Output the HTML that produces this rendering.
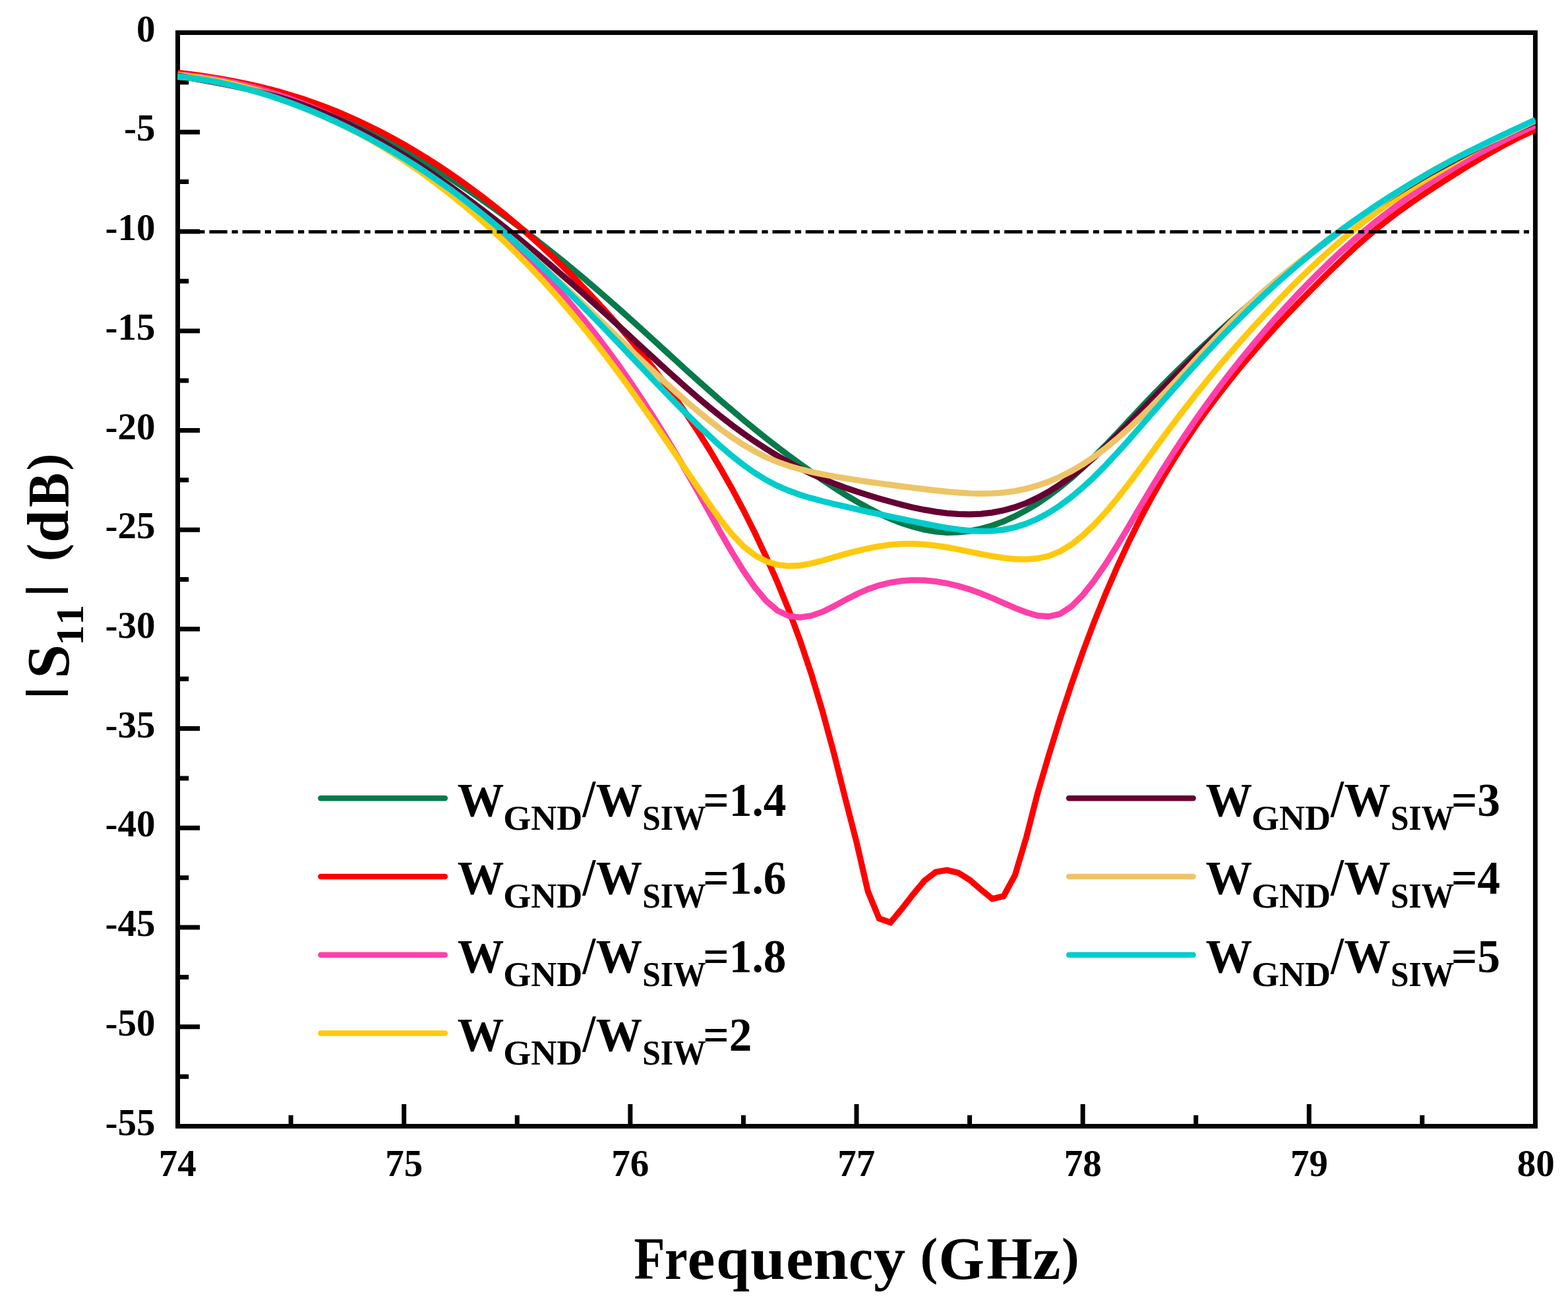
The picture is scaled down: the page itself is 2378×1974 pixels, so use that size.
<!DOCTYPE html>
<html lang="en"><head><meta charset="utf-8"><title>|S11| (dB) versus Frequency (GHz)</title>
<style>html,body{margin:0;padding:0;background:#fff}body{width:2378px;height:1974px;overflow:hidden}svg{display:block}text{font-family:'Liberation Serif', 'DejaVu Serif', serif;font-weight:bold;font-kerning:none;fill:#000;}</style></head><body>
<svg xmlns="http://www.w3.org/2000/svg" width="2378" height="1974" viewBox="0 0 2378 1974">
<rect width="2378" height="1974" fill="#fff"/>
<g fill="none" stroke="#000" stroke-width="7.00" stroke-linecap="butt">
<rect x="269.55" y="49.50" width="2058.90" height="1658.00"/>
<path d="M269.55,124.86 h16.70 M269.55,200.23 h33.60 M269.55,275.59 h16.70 M269.55,350.95 h33.60 M269.55,426.32 h16.70 M269.55,501.68 h33.60 M269.55,577.05 h16.70 M269.55,652.41 h33.60 M269.55,727.77 h16.70 M269.55,803.14 h33.60 M269.55,878.50 h16.70 M269.55,953.86 h33.60 M269.55,1029.23 h16.70 M269.55,1104.59 h33.60 M269.55,1179.95 h16.70 M269.55,1255.32 h33.60 M269.55,1330.68 h16.70 M269.55,1406.05 h33.60 M269.55,1481.41 h16.70 M269.55,1556.77 h33.60 M269.55,1632.14 h16.70 M441.12,1707.50 v-16.70 M612.70,1707.50 v-33.60 M784.27,1707.50 v-16.70 M955.85,1707.50 v-33.60 M1127.42,1707.50 v-16.70 M1299.00,1707.50 v-33.60 M1470.57,1707.50 v-16.70 M1642.15,1707.50 v-33.60 M1813.72,1707.50 v-16.70 M1985.30,1707.50 v-33.60 M2156.87,1707.50 v-16.70" stroke-width="7.00"/>
</g>
<defs><clipPath id="plot"><rect x="269.05" y="49.50" width="2059.90" height="1658.00"/></clipPath></defs>
<g fill="none" stroke-width="9.20" stroke-linejoin="miter" stroke-linecap="butt" clip-path="url(#plot)">
<path stroke="#077A4B" d="M269.6,112.5 L286.7,114.5 L303.9,116.7 L321.0,119.4 L338.2,122.4 L355.3,125.7 L372.5,129.5 L389.7,133.6 L406.8,138.2 L424.0,143.1 L441.1,148.6 L458.3,154.4 L475.4,160.7 L492.6,167.5 L509.8,174.8 L526.9,182.5 L544.1,190.6 L561.2,199.1 L578.4,208.1 L595.5,217.4 L612.7,227.1 L629.9,237.2 L647.0,247.6 L664.2,258.3 L681.3,269.3 L698.5,280.7 L715.6,292.3 L732.8,304.2 L750.0,316.4 L767.1,328.8 L784.3,341.5 L801.4,354.5 L818.6,367.8 L835.7,381.3 L852.9,395.1 L870.1,409.2 L887.2,423.5 L904.4,438.2 L921.5,453.1 L938.7,468.2 L955.8,483.6 L973.0,499.2 L990.2,514.8 L1007.3,530.5 L1024.5,546.2 L1041.6,561.8 L1058.8,577.2 L1076.0,592.5 L1093.1,607.5 L1110.3,622.1 L1127.4,636.5 L1144.6,650.6 L1161.7,664.3 L1178.9,677.6 L1196.1,690.6 L1213.2,703.3 L1230.4,715.6 L1247.5,727.6 L1264.7,739.1 L1281.8,750.0 L1299.0,760.3 L1316.2,769.8 L1333.3,778.6 L1350.5,786.4 L1367.6,793.1 L1384.8,798.7 L1401.9,803.0 L1419.1,805.9 L1436.3,807.3 L1453.4,807.0 L1470.6,805.1 L1487.7,801.7 L1504.9,796.8 L1522.0,790.5 L1539.2,782.7 L1556.4,773.6 L1573.5,763.3 L1590.7,751.6 L1607.8,738.7 L1625.0,724.5 L1642.1,709.1 L1659.3,692.6 L1676.5,675.3 L1693.6,657.3 L1710.8,639.0 L1727.9,620.6 L1745.1,602.5 L1762.3,584.9 L1779.4,567.7 L1796.6,551.0 L1813.7,534.7 L1830.9,518.8 L1848.0,503.1 L1865.2,487.7 L1882.4,472.5 L1899.5,457.5 L1916.7,442.7 L1933.8,428.2 L1951.0,413.8 L1968.1,399.8 L1985.3,386.1 L2002.5,372.7 L2019.6,359.7 L2036.8,347.0 L2053.9,334.8 L2071.1,323.1 L2088.2,311.7 L2105.4,300.8 L2122.6,290.2 L2139.7,279.9 L2156.9,269.9 L2174.0,260.2 L2191.2,250.7 L2208.3,241.4 L2225.5,232.3 L2242.7,223.5 L2259.8,214.9 L2277.0,206.7 L2294.1,198.7 L2311.3,191.2 L2328.4,184.0"/>
<path stroke="#FF0000" d="M269.6,110.2 L286.7,112.3 L303.9,114.6 L321.0,117.2 L338.2,120.0 L355.3,123.2 L372.5,126.7 L389.7,130.5 L406.8,134.7 L424.0,139.3 L441.1,144.3 L458.3,149.7 L475.4,155.5 L492.6,161.9 L509.8,168.6 L526.9,175.9 L544.1,183.6 L561.2,191.8 L578.4,200.4 L595.5,209.5 L612.7,219.1 L629.9,229.2 L647.0,239.7 L664.2,250.7 L681.3,262.1 L698.5,274.0 L715.6,286.4 L732.8,299.3 L750.0,312.6 L767.1,326.4 L784.3,340.8 L801.4,355.6 L818.6,371.0 L835.7,386.9 L852.9,403.4 L870.1,420.4 L887.2,438.1 L904.4,456.3 L921.5,475.1 L938.7,494.5 L955.8,514.7 L973.0,535.6 L990.2,557.4 L1007.3,580.1 L1024.5,603.8 L1041.6,628.7 L1058.8,654.7 L1076.0,682.0 L1093.1,710.8 L1110.3,741.2 L1127.4,773.3 L1144.6,807.5 L1161.7,843.8 L1178.9,882.5 L1196.1,924.5 L1213.2,970.6 L1230.4,1021.7 L1247.5,1078.8 L1264.7,1142.1 L1281.8,1210.0 L1299.0,1276.7 L1316.2,1351.3 L1333.3,1392.7 L1350.5,1398.7 L1367.6,1378.0 L1384.8,1356.0 L1401.9,1335.3 L1419.1,1322.0 L1436.3,1319.3 L1453.4,1323.3 L1470.6,1334.0 L1487.7,1348.7 L1504.9,1362.7 L1522.0,1358.7 L1539.2,1327.3 L1556.4,1270.0 L1573.5,1203.0 L1590.7,1144.6 L1607.8,1089.4 L1625.0,1037.4 L1642.1,988.7 L1659.3,943.1 L1676.5,900.7 L1693.6,861.1 L1710.8,824.0 L1727.9,789.4 L1745.1,756.9 L1762.3,726.4 L1779.4,697.8 L1796.6,670.8 L1813.7,645.4 L1830.9,621.2 L1848.0,598.3 L1865.2,576.3 L1882.4,555.2 L1899.5,535.0 L1916.7,515.5 L1933.8,496.6 L1951.0,478.2 L1968.1,460.3 L1985.3,442.8 L2002.5,425.5 L2019.6,408.5 L2036.8,392.1 L2053.9,376.2 L2071.1,360.9 L2088.2,346.4 L2105.4,332.8 L2122.6,319.9 L2139.7,307.7 L2156.9,296.0 L2174.0,284.7 L2191.2,273.6 L2208.3,262.8 L2225.5,252.1 L2242.7,241.8 L2259.8,231.8 L2277.0,222.2 L2294.1,213.2 L2311.3,204.7 L2328.4,196.8"/>
<path stroke="#FF40A8" d="M269.6,112.6 L286.7,114.2 L303.9,116.3 L321.0,118.8 L338.2,121.8 L355.3,125.3 L372.5,129.3 L389.7,133.7 L406.8,138.7 L424.0,144.1 L441.1,150.1 L458.3,156.5 L475.4,163.5 L492.6,170.9 L509.8,178.9 L526.9,187.4 L544.1,196.4 L561.2,205.9 L578.4,215.9 L595.5,226.4 L612.7,237.4 L629.9,248.8 L647.0,260.8 L664.2,273.3 L681.3,286.2 L698.5,299.7 L715.6,313.6 L732.8,328.0 L750.0,343.0 L767.1,358.5 L784.3,374.6 L801.4,391.4 L818.6,408.8 L835.7,427.1 L852.9,446.1 L870.1,465.9 L887.2,486.6 L904.4,508.3 L921.5,530.9 L938.7,554.4 L955.8,579.0 L973.0,604.6 L990.2,631.1 L1007.3,658.5 L1024.5,686.9 L1041.6,716.1 L1058.8,746.3 L1076.0,777.1 L1093.1,807.9 L1110.3,837.6 L1127.4,865.4 L1144.6,890.2 L1161.7,910.7 L1178.9,925.6 L1196.1,933.8 L1213.2,936.1 L1230.4,933.6 L1247.5,927.6 L1264.7,919.1 L1281.8,909.8 L1299.0,900.8 L1316.2,893.3 L1333.3,887.5 L1350.5,883.3 L1367.6,880.7 L1384.8,879.5 L1401.9,879.8 L1419.1,881.5 L1436.3,884.4 L1453.4,888.5 L1470.6,893.7 L1487.7,899.7 L1504.9,906.7 L1522.0,914.2 L1539.2,921.7 L1556.4,928.4 L1573.5,933.4 L1590.7,934.7 L1607.8,930.6 L1625.0,919.4 L1642.1,902.2 L1659.3,880.4 L1676.5,855.4 L1693.6,828.2 L1710.8,799.6 L1727.9,770.4 L1745.1,741.5 L1762.3,713.5 L1779.4,686.6 L1796.6,660.6 L1813.7,635.6 L1830.9,611.5 L1848.0,588.3 L1865.2,565.9 L1882.4,544.2 L1899.5,523.3 L1916.7,503.0 L1933.8,483.3 L1951.0,464.3 L1968.1,445.9 L1985.3,428.1 L2002.5,410.9 L2019.6,394.4 L2036.8,378.5 L2053.9,363.2 L2071.1,348.6 L2088.2,334.6 L2105.4,321.3 L2122.6,308.5 L2139.7,296.3 L2156.9,284.6 L2174.0,273.5 L2191.2,262.7 L2208.3,252.4 L2225.5,242.4 L2242.7,232.8 L2259.8,223.6 L2277.0,214.8 L2294.1,206.2 L2311.3,198.0 L2328.4,190.1"/>
<path stroke="#FFC90E" d="M269.6,113.9 L286.7,115.6 L303.9,117.9 L321.0,120.7 L338.2,124.0 L355.3,127.8 L372.5,132.2 L389.7,137.0 L406.8,142.3 L424.0,148.1 L441.1,154.4 L458.3,161.1 L475.4,168.3 L492.6,176.0 L509.8,184.2 L526.9,192.8 L544.1,201.9 L561.2,211.5 L578.4,221.6 L595.5,232.3 L612.7,243.4 L629.9,255.1 L647.0,267.3 L664.2,280.0 L681.3,293.3 L698.5,307.1 L715.6,321.5 L732.8,336.5 L750.0,352.1 L767.1,368.2 L784.3,385.0 L801.4,402.4 L818.6,420.5 L835.7,439.2 L852.9,458.6 L870.1,478.7 L887.2,499.4 L904.4,521.0 L921.5,543.2 L938.7,566.2 L955.8,589.8 L973.0,614.0 L990.2,638.6 L1007.3,663.6 L1024.5,688.8 L1041.6,714.2 L1058.8,739.6 L1076.0,764.8 L1093.1,788.7 L1110.3,810.3 L1127.4,828.2 L1144.6,841.7 L1161.7,850.9 L1178.9,856.2 L1196.1,858.2 L1213.2,857.3 L1230.4,854.3 L1247.5,849.9 L1264.7,844.9 L1281.8,840.0 L1299.0,835.4 L1316.2,831.4 L1333.3,828.2 L1350.5,825.8 L1367.6,824.5 L1384.8,824.4 L1401.9,825.4 L1419.1,827.3 L1436.3,829.9 L1453.4,833.0 L1470.6,836.4 L1487.7,839.9 L1504.9,843.2 L1522.0,845.9 L1539.2,847.7 L1556.4,848.1 L1573.5,846.7 L1590.7,842.9 L1607.8,835.9 L1625.0,825.5 L1642.1,811.9 L1659.3,795.6 L1676.5,777.0 L1693.6,756.6 L1710.8,734.8 L1727.9,712.0 L1745.1,688.8 L1762.3,665.3 L1779.4,642.2 L1796.6,619.7 L1813.7,597.8 L1830.9,576.6 L1848.0,555.9 L1865.2,535.9 L1882.4,516.3 L1899.5,497.2 L1916.7,478.6 L1933.8,460.5 L1951.0,442.8 L1968.1,425.5 L1985.3,408.8 L2002.5,392.7 L2019.6,377.1 L2036.8,362.2 L2053.9,347.9 L2071.1,334.2 L2088.2,321.3 L2105.4,309.1 L2122.6,297.6 L2139.7,286.5 L2156.9,275.7 L2174.0,265.2 L2191.2,254.9 L2208.3,244.5 L2225.5,234.3 L2242.7,224.4 L2259.8,214.9 L2277.0,206.1 L2294.1,197.9 L2311.3,190.6 L2328.4,184.4"/>
<path stroke="#660033" d="M269.6,114.9 L286.7,117.9 L303.9,120.9 L321.0,124.0 L338.2,127.3 L355.3,130.8 L372.5,134.5 L389.7,138.6 L406.8,143.0 L424.0,147.7 L441.1,153.0 L458.3,158.7 L475.4,165.0 L492.6,171.9 L509.8,179.4 L526.9,187.4 L544.1,196.0 L561.2,205.0 L578.4,214.6 L595.5,224.6 L612.7,235.1 L629.9,246.0 L647.0,257.3 L664.2,269.0 L681.3,281.0 L698.5,293.4 L715.6,306.1 L732.8,319.1 L750.0,332.3 L767.1,345.9 L784.3,359.7 L801.4,373.7 L818.6,388.0 L835.7,402.6 L852.9,417.4 L870.1,432.4 L887.2,447.6 L904.4,463.0 L921.5,478.6 L938.7,494.4 L955.8,510.2 L973.0,526.2 L990.2,542.0 L1007.3,557.7 L1024.5,573.2 L1041.6,588.4 L1058.8,603.2 L1076.0,617.6 L1093.1,631.4 L1110.3,644.7 L1127.4,657.2 L1144.6,669.2 L1161.7,680.4 L1178.9,691.0 L1196.1,700.8 L1213.2,710.0 L1230.4,718.4 L1247.5,726.0 L1264.7,733.0 L1281.8,739.3 L1299.0,745.2 L1316.2,750.7 L1333.3,755.8 L1350.5,760.7 L1367.6,765.3 L1384.8,769.4 L1401.9,772.9 L1419.1,775.9 L1436.3,778.1 L1453.4,779.4 L1470.6,779.8 L1487.7,779.1 L1504.9,777.1 L1522.0,773.8 L1539.2,769.0 L1556.4,762.7 L1573.5,754.8 L1590.7,745.3 L1607.8,734.4 L1625.0,722.1 L1642.1,708.4 L1659.3,693.5 L1676.5,677.4 L1693.6,660.6 L1710.8,643.1 L1727.9,625.4 L1745.1,607.6 L1762.3,590.0 L1779.4,572.6 L1796.6,555.4 L1813.7,538.5 L1830.9,521.9 L1848.0,505.5 L1865.2,489.4 L1882.4,473.7 L1899.5,458.4 L1916.7,443.3 L1933.8,428.6 L1951.0,414.3 L1968.1,400.3 L1985.3,386.7 L2002.5,373.4 L2019.6,360.5 L2036.8,348.0 L2053.9,335.8 L2071.1,323.9 L2088.2,312.4 L2105.4,301.3 L2122.6,290.5 L2139.7,280.0 L2156.9,269.9 L2174.0,260.1 L2191.2,250.6 L2208.3,241.4 L2225.5,232.5 L2242.7,223.9 L2259.8,215.6 L2277.0,207.5 L2294.1,199.7 L2311.3,192.1 L2328.4,184.8"/>
<path stroke="#EDC568" d="M269.6,116.4 L286.7,118.0 L303.9,120.1 L321.0,122.9 L338.2,126.2 L355.3,130.0 L372.5,134.3 L389.7,139.2 L406.8,144.5 L424.0,150.3 L441.1,156.5 L458.3,163.1 L475.4,170.2 L492.6,177.6 L509.8,185.5 L526.9,193.7 L544.1,202.3 L561.2,211.4 L578.4,220.9 L595.5,230.8 L612.7,241.1 L629.9,251.9 L647.0,263.1 L664.2,274.7 L681.3,286.9 L698.5,299.4 L715.6,312.5 L732.8,326.0 L750.0,340.0 L767.1,354.4 L784.3,369.1 L801.4,384.2 L818.6,399.6 L835.7,415.3 L852.9,431.2 L870.1,447.4 L887.2,463.6 L904.4,480.1 L921.5,496.6 L938.7,513.2 L955.8,529.7 L973.0,546.2 L990.2,562.4 L1007.3,578.4 L1024.5,594.0 L1041.6,609.2 L1058.8,623.7 L1076.0,637.7 L1093.1,650.9 L1110.3,663.1 L1127.4,674.3 L1144.6,684.3 L1161.7,693.0 L1178.9,700.3 L1196.1,706.3 L1213.2,711.3 L1230.4,715.5 L1247.5,719.0 L1264.7,722.2 L1281.8,725.1 L1299.0,727.8 L1316.2,730.4 L1333.3,732.8 L1350.5,735.1 L1367.6,737.4 L1384.8,739.5 L1401.9,741.6 L1419.1,743.6 L1436.3,745.4 L1453.4,746.9 L1470.6,748.0 L1487.7,748.4 L1504.9,748.0 L1522.0,746.8 L1539.2,744.5 L1556.4,741.0 L1573.5,736.2 L1590.7,730.2 L1607.8,722.9 L1625.0,714.2 L1642.1,704.0 L1659.3,692.5 L1676.5,679.7 L1693.6,665.6 L1710.8,650.5 L1727.9,634.4 L1745.1,617.5 L1762.3,599.8 L1779.4,581.7 L1796.6,563.3 L1813.7,544.7 L1830.9,526.2 L1848.0,508.0 L1865.2,490.2 L1882.4,473.2 L1899.5,456.9 L1916.7,441.4 L1933.8,426.6 L1951.0,412.5 L1968.1,398.9 L1985.3,385.7 L2002.5,373.0 L2019.6,360.6 L2036.8,348.4 L2053.9,336.3 L2071.1,324.4 L2088.2,312.6 L2105.4,301.0 L2122.6,289.7 L2139.7,278.7 L2156.9,268.2 L2174.0,258.1 L2191.2,248.6 L2208.3,239.6 L2225.5,231.1 L2242.7,223.0 L2259.8,215.1 L2277.0,207.2 L2294.1,199.3 L2311.3,191.2 L2328.4,182.8"/>
<path stroke="#00CCCC" d="M269.6,115.9 L286.7,117.7 L303.9,120.1 L321.0,122.9 L338.2,126.2 L355.3,130.1 L372.5,134.4 L389.7,139.2 L406.8,144.4 L424.0,150.1 L441.1,156.2 L458.3,162.7 L475.4,169.6 L492.6,177.0 L509.8,184.7 L526.9,192.9 L544.1,201.5 L561.2,210.5 L578.4,219.9 L595.5,229.8 L612.7,240.1 L629.9,250.9 L647.0,262.2 L664.2,273.9 L681.3,286.1 L698.5,298.8 L715.6,312.0 L732.8,325.7 L750.0,339.9 L767.1,354.6 L784.3,369.6 L801.4,385.1 L818.6,401.0 L835.7,417.2 L852.9,433.8 L870.1,450.7 L887.2,467.9 L904.4,485.4 L921.5,503.1 L938.7,521.0 L955.8,539.1 L973.0,557.2 L990.2,575.3 L1007.3,593.1 L1024.5,610.8 L1041.6,628.1 L1058.8,644.9 L1076.0,661.2 L1093.1,676.8 L1110.3,691.4 L1127.4,704.9 L1144.6,717.0 L1161.7,727.6 L1178.9,736.5 L1196.1,743.9 L1213.2,750.1 L1230.4,755.3 L1247.5,759.9 L1264.7,764.1 L1281.8,768.1 L1299.0,772.0 L1316.2,775.9 L1333.3,779.6 L1350.5,783.3 L1367.6,786.8 L1384.8,790.4 L1401.9,793.8 L1419.1,797.2 L1436.3,800.3 L1453.4,802.8 L1470.6,804.6 L1487.7,805.4 L1504.9,805.0 L1522.0,803.1 L1539.2,799.5 L1556.4,794.0 L1573.5,786.6 L1590.7,777.3 L1607.8,766.3 L1625.0,753.5 L1642.1,739.1 L1659.3,723.1 L1676.5,705.7 L1693.6,687.4 L1710.8,668.3 L1727.9,648.7 L1745.1,629.0 L1762.3,609.5 L1779.4,590.1 L1796.6,570.9 L1813.7,552.1 L1830.9,533.5 L1848.0,515.4 L1865.2,497.6 L1882.4,480.4 L1899.5,463.6 L1916.7,447.3 L1933.8,431.5 L1951.0,416.3 L1968.1,401.5 L1985.3,387.1 L2002.5,373.3 L2019.6,359.9 L2036.8,347.0 L2053.9,334.5 L2071.1,322.4 L2088.2,310.8 L2105.4,299.6 L2122.6,288.8 L2139.7,278.3 L2156.9,268.2 L2174.0,258.4 L2191.2,249.0 L2208.3,239.8 L2225.5,230.9 L2242.7,222.3 L2259.8,213.8 L2277.0,205.6 L2294.1,197.6 L2311.3,189.6 L2328.4,181.8"/>
</g>
<path d="M267.16,351.55 H2319.00" fill="none" stroke="#000" stroke-width="5.00" stroke-dasharray="27.3 6.87 9.2 6.87"/>
<g font-size="57.00">
<text x="206.97" y="62.60" textLength="28.50" lengthAdjust="spacingAndGlyphs">0</text>
<text x="187.91" y="213.33" textLength="47.48" lengthAdjust="spacingAndGlyphs">-5</text>
<text x="159.49" y="364.05" textLength="75.98" lengthAdjust="spacingAndGlyphs">-10</text>
<text x="159.41" y="514.78" textLength="75.98" lengthAdjust="spacingAndGlyphs">-15</text>
<text x="159.49" y="665.51" textLength="75.98" lengthAdjust="spacingAndGlyphs">-20</text>
<text x="159.41" y="816.24" textLength="75.98" lengthAdjust="spacingAndGlyphs">-25</text>
<text x="159.49" y="966.96" textLength="75.98" lengthAdjust="spacingAndGlyphs">-30</text>
<text x="159.41" y="1117.69" textLength="75.98" lengthAdjust="spacingAndGlyphs">-35</text>
<text x="159.49" y="1268.42" textLength="75.98" lengthAdjust="spacingAndGlyphs">-40</text>
<text x="159.41" y="1419.15" textLength="75.98" lengthAdjust="spacingAndGlyphs">-45</text>
<text x="159.49" y="1569.87" textLength="75.98" lengthAdjust="spacingAndGlyphs">-50</text>
<text x="159.41" y="1720.60" textLength="75.98" lengthAdjust="spacingAndGlyphs">-55</text>
<text x="240.65" y="1783.00" textLength="57.00" lengthAdjust="spacingAndGlyphs">74</text>
<text x="584.32" y="1783.00" textLength="57.00" lengthAdjust="spacingAndGlyphs">75</text>
<text x="927.26" y="1783.00" textLength="57.00" lengthAdjust="spacingAndGlyphs">76</text>
<text x="1270.27" y="1783.00" textLength="57.00" lengthAdjust="spacingAndGlyphs">77</text>
<text x="1613.67" y="1783.00" textLength="57.00" lengthAdjust="spacingAndGlyphs">78</text>
<text x="1956.90" y="1783.00" textLength="57.00" lengthAdjust="spacingAndGlyphs">79</text>
<text x="2300.79" y="1783.00" textLength="57.00" lengthAdjust="spacingAndGlyphs">80</text>
</g>
<text xml:space="preserve"><tspan x="961.59" y="1939.20" font-size="90.00" textLength="47.00" lengthAdjust="spacingAndGlyphs">F</tspan><tspan x="1007.90" y="1939.20" font-size="90.00" textLength="34.68" lengthAdjust="spacingAndGlyphs">r</tspan><tspan x="1042.47" y="1939.20" font-size="90.00" textLength="41.98" lengthAdjust="spacingAndGlyphs">e</tspan><tspan x="1085.95" y="1939.20" font-size="90.00" textLength="50.90" lengthAdjust="spacingAndGlyphs">q</tspan><tspan x="1137.97" y="1939.20" font-size="90.00" textLength="52.57" lengthAdjust="spacingAndGlyphs">u</tspan><tspan x="1191.99" y="1939.20" font-size="90.00" textLength="41.63" lengthAdjust="spacingAndGlyphs">e</tspan><tspan x="1233.43" y="1939.20" font-size="90.00" textLength="53.22" lengthAdjust="spacingAndGlyphs">n</tspan><tspan x="1287.05" y="1939.20" font-size="90.00" textLength="37.03" lengthAdjust="spacingAndGlyphs">c</tspan><tspan x="1324.96" y="1939.20" font-size="90.00" textLength="48.18" lengthAdjust="spacingAndGlyphs">y</tspan><tspan x="1375.52" y="1931.20" font-size="78.00" textLength="46.76" lengthAdjust="spacingAndGlyphs"> (</tspan><tspan x="1423.44" y="1939.20" font-size="90.00" textLength="69.51" lengthAdjust="spacingAndGlyphs">G</tspan><tspan x="1496.17" y="1939.20" font-size="90.00" textLength="69.51" lengthAdjust="spacingAndGlyphs">H</tspan><tspan x="1566.13" y="1939.20" font-size="90.00" textLength="42.58" lengthAdjust="spacingAndGlyphs">z</tspan><tspan x="1610.02" y="1931.20" font-size="78.00" textLength="26.71" lengthAdjust="spacingAndGlyphs">)</tspan></text>
<g transform="translate(103.00,1060.00) rotate(-90)">
<text xml:space="preserve"><tspan x="-1.75" y="-15.00" font-size="69.10" textLength="22.39" lengthAdjust="spacingAndGlyphs">|</tspan><tspan x="31.36" y="0.50" font-size="90.00" textLength="51.58" lengthAdjust="spacingAndGlyphs">S</tspan><tspan x="81.23" y="22.80" font-size="60.00" textLength="62.09" lengthAdjust="spacingAndGlyphs">11</tspan><tspan x="153.45" y="-15.00" font-size="69.10" textLength="22.39" lengthAdjust="spacingAndGlyphs">|</tspan><tspan x="188.38" y="-7.60" font-size="78.50" textLength="47.44" lengthAdjust="spacingAndGlyphs"> (</tspan><tspan x="237.61" y="0.00" font-size="89.50" textLength="49.29" lengthAdjust="spacingAndGlyphs">d</tspan><tspan x="290.90" y="0.00" font-size="89.50" textLength="52.28" lengthAdjust="spacingAndGlyphs">B</tspan><tspan x="346.48" y="-7.60" font-size="78.50" textLength="26.06" lengthAdjust="spacingAndGlyphs">)</tspan></text>
</g>
<path d="M486.30,1210.20 h188.60" fill="none" stroke="#077A4B" stroke-width="8.40" stroke-linecap="round"/>
<text><tspan x="693.80" y="1236.60" font-size="72.00" textLength="70.60" lengthAdjust="spacingAndGlyphs">W</tspan><tspan x="763.26" y="1257.50" font-size="52.00" textLength="120.18" lengthAdjust="spacingAndGlyphs">GND</tspan><tspan x="883.59" y="1238.10" font-size="80.00" textLength="19.68" lengthAdjust="spacingAndGlyphs">/</tspan><tspan x="903.80" y="1236.60" font-size="72.00" textLength="70.29" lengthAdjust="spacingAndGlyphs">W</tspan><tspan x="974.16" y="1257.50" font-size="52.00" textLength="96.41" lengthAdjust="spacingAndGlyphs">SIW</tspan><tspan x="1066.35" y="1236.60" font-size="72.00" textLength="126.05" lengthAdjust="spacingAndGlyphs">=1.4</tspan></text>
<path d="M486.30,1328.95 h188.60" fill="none" stroke="#FF0000" stroke-width="8.40" stroke-linecap="round"/>
<text><tspan x="693.80" y="1355.35" font-size="72.00" textLength="70.60" lengthAdjust="spacingAndGlyphs">W</tspan><tspan x="763.26" y="1376.25" font-size="52.00" textLength="120.18" lengthAdjust="spacingAndGlyphs">GND</tspan><tspan x="883.59" y="1356.85" font-size="80.00" textLength="19.68" lengthAdjust="spacingAndGlyphs">/</tspan><tspan x="903.80" y="1355.35" font-size="72.00" textLength="70.29" lengthAdjust="spacingAndGlyphs">W</tspan><tspan x="974.16" y="1376.25" font-size="52.00" textLength="96.41" lengthAdjust="spacingAndGlyphs">SIW</tspan><tspan x="1066.35" y="1355.35" font-size="72.00" textLength="126.05" lengthAdjust="spacingAndGlyphs">=1.6</tspan></text>
<path d="M486.30,1447.70 h188.60" fill="none" stroke="#FF40A8" stroke-width="8.40" stroke-linecap="round"/>
<text><tspan x="693.80" y="1474.10" font-size="72.00" textLength="70.60" lengthAdjust="spacingAndGlyphs">W</tspan><tspan x="763.26" y="1495.00" font-size="52.00" textLength="120.18" lengthAdjust="spacingAndGlyphs">GND</tspan><tspan x="883.59" y="1475.60" font-size="80.00" textLength="19.68" lengthAdjust="spacingAndGlyphs">/</tspan><tspan x="903.80" y="1474.10" font-size="72.00" textLength="70.29" lengthAdjust="spacingAndGlyphs">W</tspan><tspan x="974.16" y="1495.00" font-size="52.00" textLength="96.41" lengthAdjust="spacingAndGlyphs">SIW</tspan><tspan x="1066.35" y="1474.10" font-size="72.00" textLength="126.05" lengthAdjust="spacingAndGlyphs">=1.8</tspan></text>
<path d="M486.30,1566.45 h188.60" fill="none" stroke="#FFC90E" stroke-width="8.40" stroke-linecap="round"/>
<text><tspan x="693.80" y="1592.85" font-size="72.00" textLength="70.60" lengthAdjust="spacingAndGlyphs">W</tspan><tspan x="763.26" y="1613.75" font-size="52.00" textLength="120.18" lengthAdjust="spacingAndGlyphs">GND</tspan><tspan x="883.59" y="1594.35" font-size="80.00" textLength="19.68" lengthAdjust="spacingAndGlyphs">/</tspan><tspan x="903.80" y="1592.85" font-size="72.00" textLength="70.29" lengthAdjust="spacingAndGlyphs">W</tspan><tspan x="974.16" y="1613.75" font-size="52.00" textLength="96.41" lengthAdjust="spacingAndGlyphs">SIW</tspan><tspan x="1066.35" y="1592.85" font-size="72.00" textLength="74.10" lengthAdjust="spacingAndGlyphs">=2</tspan></text>
<path d="M1621.05,1210.20 h188.60" fill="none" stroke="#660033" stroke-width="8.40" stroke-linecap="round"/>
<text><tspan x="1828.55" y="1236.60" font-size="72.00" textLength="70.60" lengthAdjust="spacingAndGlyphs">W</tspan><tspan x="1898.01" y="1257.50" font-size="52.00" textLength="120.18" lengthAdjust="spacingAndGlyphs">GND</tspan><tspan x="2018.34" y="1238.10" font-size="80.00" textLength="19.68" lengthAdjust="spacingAndGlyphs">/</tspan><tspan x="2038.55" y="1236.60" font-size="72.00" textLength="70.29" lengthAdjust="spacingAndGlyphs">W</tspan><tspan x="2108.91" y="1257.50" font-size="52.00" textLength="96.41" lengthAdjust="spacingAndGlyphs">SIW</tspan><tspan x="2201.10" y="1236.60" font-size="72.00" textLength="74.10" lengthAdjust="spacingAndGlyphs">=3</tspan></text>
<path d="M1621.05,1328.95 h188.60" fill="none" stroke="#EDC568" stroke-width="8.40" stroke-linecap="round"/>
<text><tspan x="1828.55" y="1355.35" font-size="72.00" textLength="70.60" lengthAdjust="spacingAndGlyphs">W</tspan><tspan x="1898.01" y="1376.25" font-size="52.00" textLength="120.18" lengthAdjust="spacingAndGlyphs">GND</tspan><tspan x="2018.34" y="1356.85" font-size="80.00" textLength="19.68" lengthAdjust="spacingAndGlyphs">/</tspan><tspan x="2038.55" y="1355.35" font-size="72.00" textLength="70.29" lengthAdjust="spacingAndGlyphs">W</tspan><tspan x="2108.91" y="1376.25" font-size="52.00" textLength="96.41" lengthAdjust="spacingAndGlyphs">SIW</tspan><tspan x="2201.10" y="1355.35" font-size="72.00" textLength="74.10" lengthAdjust="spacingAndGlyphs">=4</tspan></text>
<path d="M1621.05,1447.70 h188.60" fill="none" stroke="#00CCCC" stroke-width="8.40" stroke-linecap="round"/>
<text><tspan x="1828.55" y="1474.10" font-size="72.00" textLength="70.60" lengthAdjust="spacingAndGlyphs">W</tspan><tspan x="1898.01" y="1495.00" font-size="52.00" textLength="120.18" lengthAdjust="spacingAndGlyphs">GND</tspan><tspan x="2018.34" y="1475.60" font-size="80.00" textLength="19.68" lengthAdjust="spacingAndGlyphs">/</tspan><tspan x="2038.55" y="1474.10" font-size="72.00" textLength="70.29" lengthAdjust="spacingAndGlyphs">W</tspan><tspan x="2108.91" y="1495.00" font-size="52.00" textLength="96.41" lengthAdjust="spacingAndGlyphs">SIW</tspan><tspan x="2201.10" y="1474.10" font-size="72.00" textLength="74.10" lengthAdjust="spacingAndGlyphs">=5</tspan></text>
</svg></body></html>
